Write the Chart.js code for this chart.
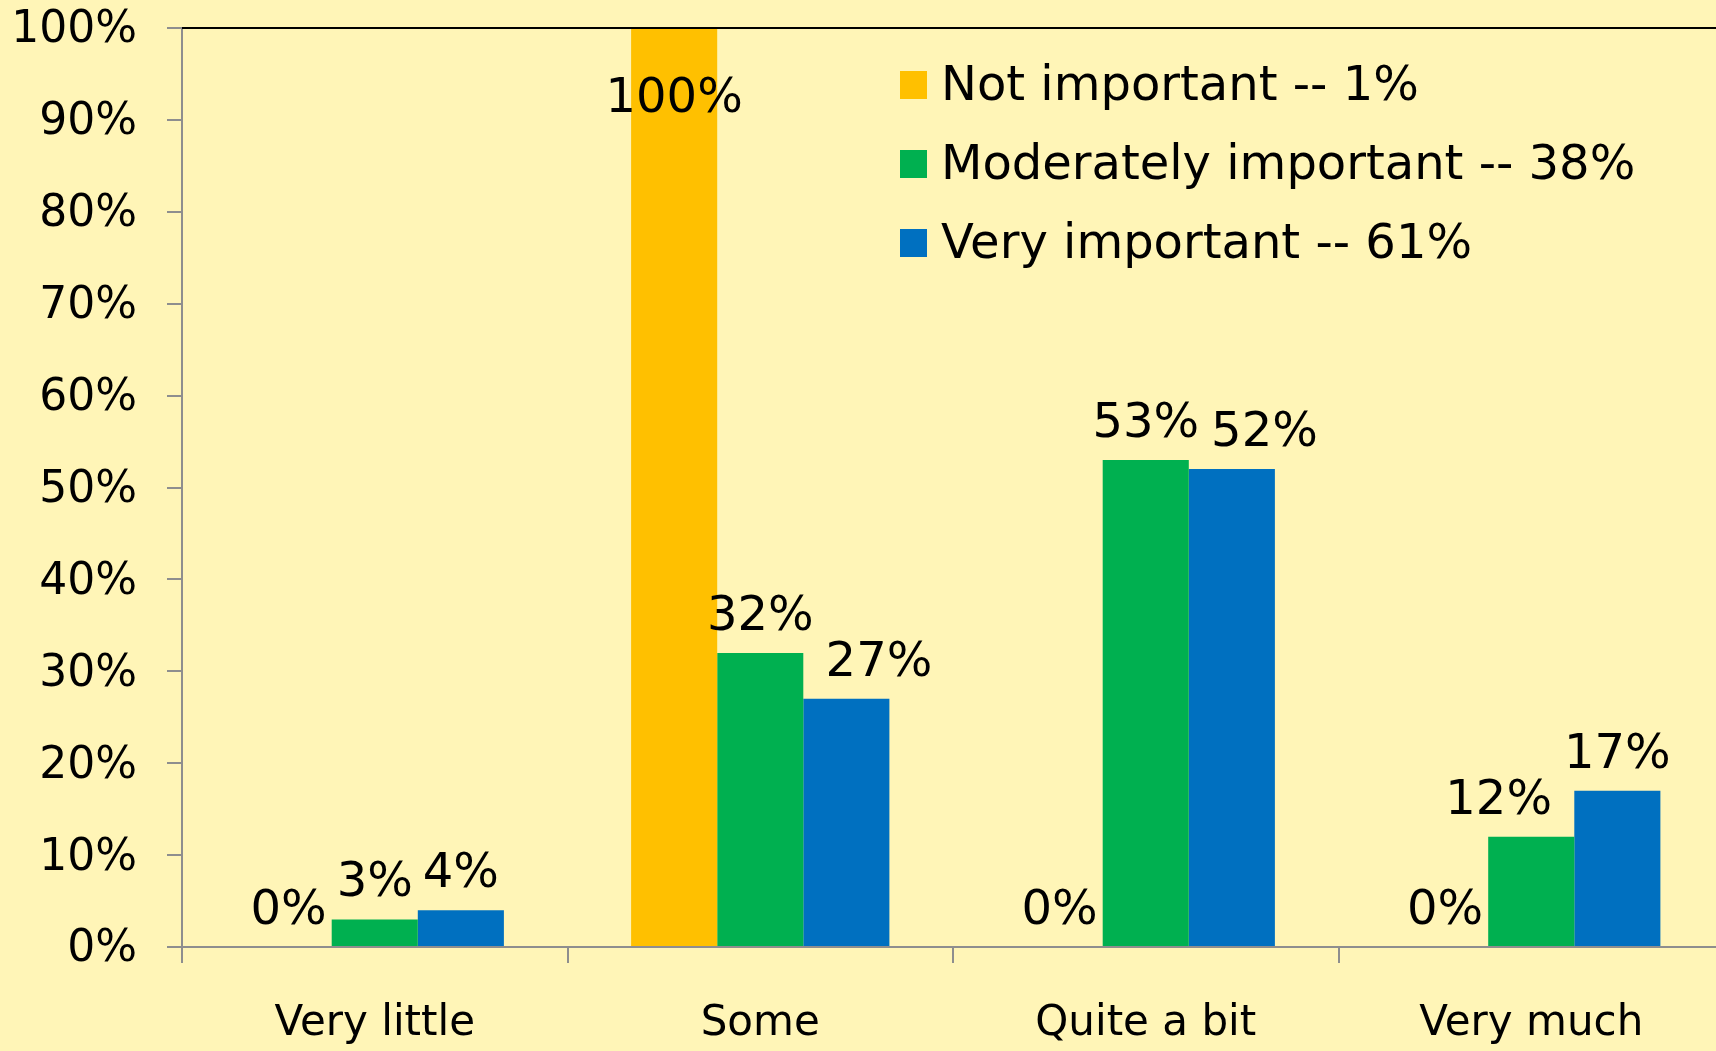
<!DOCTYPE html>
<html lang="en">
<head>
    <meta charset="UTF-8">
    <title>Importance by amount</title>
    <script src="https://cdn.jsdelivr.net/npm/chart.js"></script>
    <style>
        html, body { margin: 0; padding: 0; background: #FFF5B7; overflow: hidden; }
        #wrap { width: 1726px; height: 1051px; }
    </style>
</head>
<body>
<div id="wrap"><canvas id="myChart" width="1726" height="1051"></canvas></div>

<script>
    const categories = ['Very little', 'Some', 'Quite a bit', 'Very much'];
    const seriesNames = ['Not important -- 1%', 'Moderately important -- 38%', 'Very important -- 61%'];
    const notImportant = [0, 100, 0, 0];
    const moderatelyImportant = [3, 32, 53, 12];
    const veryImportant = [4, 27, 52, 17];
    const yTicks = [0, 10, 20, 30, 40, 50, 60, 70, 80, 90, 100];

    const colors = ['#FFC000', '#00B050', '#0070C0'];
    const font = 'DejaVu Sans';
    const labelSize = 48;

    // background, top border, value labels and legend
    const decorate = {
        id: 'decorate',
        beforeDraw(chart) {
            const ctx = chart.ctx;
            ctx.save();
            ctx.fillStyle = '#FFF5B7';
            ctx.fillRect(0, 0, chart.width, chart.height);
            ctx.restore();
        },
        afterDatasetsDraw(chart) {
            const ctx = chart.ctx;
            const area = chart.chartArea;
            ctx.save();
            ctx.fillStyle = '#000';
            ctx.font = labelSize + 'px "' + font + '"';
            ctx.textAlign = 'center';
            ctx.textBaseline = 'alphabetic';

            // label boxes per category, then nudge the lower one sideways when two collide
            const boxH = labelSize * 1.2;
            categories.forEach((c, j) => {
                const labs = chart.data.datasets.map((ds, i) => {
                    const bar = chart.getDatasetMeta(i).data[j];
                    const text = ds.data[j] + '%';
                    let y = bar.y - 23;
                    if (y - 36 < area.top) y = area.top + 84;
                    return { text, x: bar.x, y, w: ctx.measureText(text).width, v: ds.data[j] };
                });
                for (let k = 1; k < labs.length; k++) {
                    const a = labs[k - 1], b = labs[k];
                    const overlapX = (a.x + a.w / 2) - (b.x - b.w / 2);
                    const overlapY = Math.abs(a.y - b.y) < boxH;
                    if (overlapX > 0 && overlapY) {
                        if (b.v <= a.v) b.x += overlapX + 12;
                        else a.x -= overlapX + 12;
                    }
                }
                labs.forEach(l => ctx.fillText(l.text, l.x, l.y));
            });

            // top border of plot area
            ctx.strokeStyle = '#000';
            ctx.lineWidth = 2;
            ctx.beginPath();
            ctx.moveTo(area.left, area.top);
            ctx.lineTo(area.right, area.top);
            ctx.stroke();

            // legend
            ctx.textAlign = 'left';
            ctx.textBaseline = 'middle';
            chart.data.datasets.forEach((ds, i) => {
                const cy = 85 + i * 79;
                ctx.fillStyle = ds.backgroundColor;
                ctx.fillRect(900, cy - 14, 27, 28);
                ctx.fillStyle = '#000';
                ctx.fillText(ds.label, 941, cy + 3);
            });
            ctx.restore();
        }
    };

    const ctx = document.getElementById('myChart').getContext('2d');
    new Chart(ctx, {
        type: 'bar',
        data: {
            labels: categories,
            datasets: [
                { label: seriesNames[0], data: notImportant, backgroundColor: colors[0] },
                { label: seriesNames[1], data: moderatelyImportant, backgroundColor: colors[1] },
                { label: seriesNames[2], data: veryImportant, backgroundColor: colors[2] }
            ]
        },
        options: {
            responsive: false,
            animation: false,
            layout: { padding: { top: 28, right: 2, left: 0, bottom: 0 } },
            datasets: { bar: { categoryPercentage: 0.67, barPercentage: 1.0 } },
            plugins: { legend: { display: false }, tooltip: { enabled: false } },
            scales: {
                x: {
                    grid: { display: true, drawOnChartArea: false, offset: true, tickLength: 16, color: '#8E8E8E', lineWidth: 2 },
                    border: { color: '#8E8E8E', width: 2 },
                    ticks: { color: '#000', font: { family: font, size: 42 }, padding: 36, maxRotation: 0 },
                    afterFit(s) { s.height = 104; s.paddingLeft = 0; s.paddingRight = 0; }
                },
                y: {
                    min: 0, max: 100,
                    afterBuildTicks(s) { s.ticks = yTicks.map(v => ({ value: v })); },
                    grid: { display: true, drawOnChartArea: false, tickLength: 15, color: '#8E8E8E', lineWidth: 2 },
                    border: { color: '#8E8E8E', width: 2 },
                    ticks: { color: '#000', font: { family: font, size: 44 }, padding: 30, labelOffset: 3, callback: v => v + '%' },
                    afterFit(s) { s.width = 182; s.paddingTop = 0; s.paddingBottom = 0; }
                }
            }
        },
        plugins: [decorate]
    });
</script>
</body>
</html>
